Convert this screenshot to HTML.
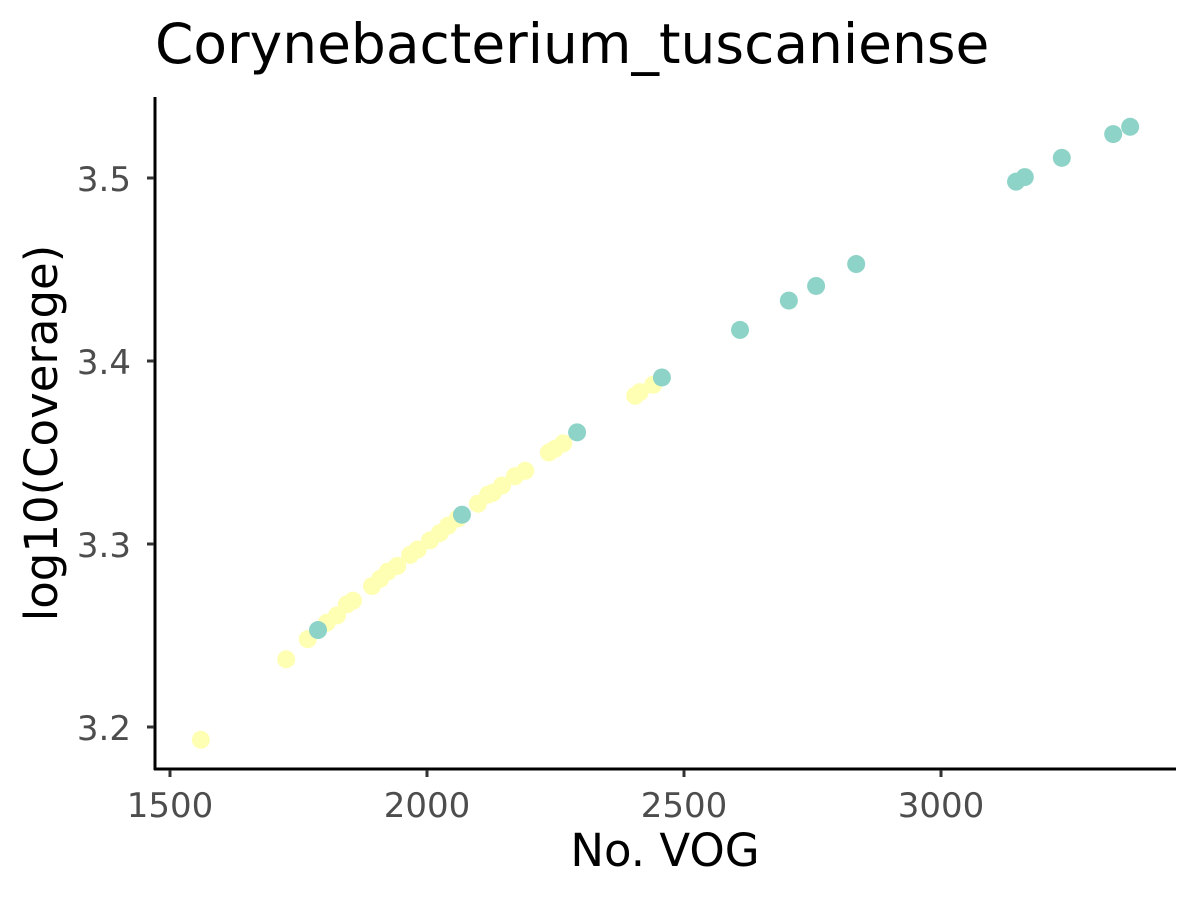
<!DOCTYPE html>
<html><head><meta charset="utf-8"><style>
body{margin:0;background:#fff;}
svg{display:block;font-family:"DejaVu Sans","Liberation Sans",sans-serif;}
</style></head><body>
<svg id="chart" width="1200" height="900">
<text x="155" y="63" font-size="55" fill="#000">Corynebacterium_tuscaniense</text>
<g id="marks"></g>
<line x1="155" y1="97" x2="155" y2="770" stroke="#000" stroke-width="3"/>
<line x1="154" y1="769" x2="1176" y2="769" stroke="#000" stroke-width="3"/>
<g id="axes"></g>
<text x="665" y="866" font-size="45" text-anchor="middle" fill="#000">No. VOG</text>
<text transform="translate(57,433) rotate(-90)" font-size="45" text-anchor="middle" fill="#000">log10(Coverage)</text>
</svg>
<script>
const yellowX=[1560,1726,1768,1805,1825,1844,1856,1893,1909,1924,1942,1967,1982,2006,2025,2041,2060,2099,2119,2128,2146,2171,2191,2237,2249,2265,2405,2414,2440];
const yellowY=[3.193,3.237,3.248,3.257,3.261,3.267,3.269,3.277,3.281,3.285,3.288,3.294,3.297,3.302,3.306,3.310,3.314,3.322,3.327,3.328,3.332,3.337,3.340,3.350,3.352,3.355,3.381,3.383,3.387];
const tealX=[1788,2068,2292,2457,2609,2704,2757,2835,3146,3163,3235,3335,3368];
const tealY=[3.253,3.316,3.361,3.391,3.417,3.433,3.441,3.453,3.498,3.5005,3.511,3.524,3.528];
const xTicks=[1500,2000,2500,3000];
const yTicks=[3.2,3.3,3.4,3.5];
const yTickLabels=["3.2","3.3","3.4","3.5"];
const NS="http://www.w3.org/2000/svg";
function sx(v){return 170+(v-1500)*0.514;}
function sy(v){return 178+(3.5-v)*1830;}
const marks=document.getElementById('marks');
const axes=document.getElementById('axes');
function dot(x,y,c,name){
  const e=document.createElementNS(NS,'circle');
  e.setAttribute('cx',sx(x));e.setAttribute('cy',sy(y));e.setAttribute('r',9);e.setAttribute('fill',c);
  
  
  marks.appendChild(e);
}
yellowX.forEach((x,i)=>dot(x,yellowY[i],'#ffffb3','point-yellow'));
tealX.forEach((x,i)=>dot(x,tealY[i],'#8dd3c7','point-teal'));
xTicks.forEach(t=>{
  const l=document.createElementNS(NS,'line');
  l.setAttribute('x1',sx(t));l.setAttribute('x2',sx(t));l.setAttribute('y1',770);l.setAttribute('y2',777);
  l.setAttribute('stroke','#333');l.setAttribute('stroke-width',3);
  
  
  axes.appendChild(l);
  const tx=document.createElementNS(NS,'text');
  tx.setAttribute('x',sx(t));tx.setAttribute('y',817);tx.setAttribute('text-anchor','middle');
  tx.setAttribute('font-size',34);tx.setAttribute('fill','#4d4d4d');tx.textContent=t;
  
  
  axes.appendChild(tx);
});
yTicks.forEach((t,i)=>{
  const l=document.createElementNS(NS,'line');
  l.setAttribute('x1',147);l.setAttribute('x2',154);l.setAttribute('y1',sy(t));l.setAttribute('y2',sy(t));
  l.setAttribute('stroke','#333');l.setAttribute('stroke-width',3);
  
  
  axes.appendChild(l);
  const tx=document.createElementNS(NS,'text');
  tx.setAttribute('x',131);tx.setAttribute('y',sy(t)+13);tx.setAttribute('text-anchor','end');
  tx.setAttribute('font-size',34);tx.setAttribute('fill','#4d4d4d');tx.textContent=yTickLabels[i];
  
  
  axes.appendChild(tx);
});
</script>
</body></html>
